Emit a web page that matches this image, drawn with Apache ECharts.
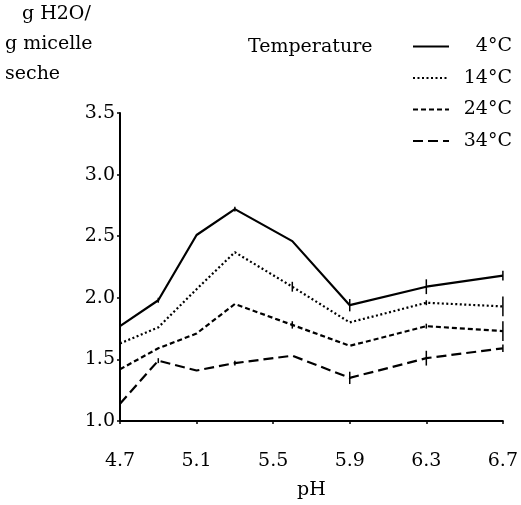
<!DOCTYPE html>
<html><head><meta charset="utf-8">
<script src="https://cdn.jsdelivr.net/npm/echarts@6/dist/echarts.min.js"></script>
<style>html,body{margin:0;padding:0;background:#fff}#c{width:521px;height:505px}</style>
</head><body><div id="c"></div>
<script>
const pH = [4.7, 4.9, 5.1, 5.3, 5.6, 5.9, 6.3, 6.7];
const xTicks = [4.7, 5.1, 5.5, 5.9, 6.3, 6.7];
const t4  = [1.77, 1.98, 2.51, 2.72, 2.46, 1.94, 2.09, 2.18];
const t14 = [1.63, 1.76, 2.07, 2.37, 2.09, 1.80, 1.96, 1.93];
const t24 = [1.42, 1.59, 1.71, 1.95, 1.78, 1.61, 1.77, 1.73];
const t34 = [1.14, 1.49, 1.41, 1.47, 1.53, 1.35, 1.51, 1.59];
const e4  = [0, 0.02, 0, 0.02, 0, 0.05, 0.06, 0.04];
const e14 = [0.04, 0, 0, 0, 0.04, 0, 0.02, 0.08];
const e24 = [0.04, 0, 0, 0, 0.03, 0, 0.02, 0.08];
const e34 = [0, 0.02, 0, 0.02, 0, 0.05, 0.06, 0.03];
const names = ['4°C', '14°C', '24°C', '34°C'];
const dashes = ['solid', [2, 2.5], [5, 3], [10, 5]];
const values = [t4, t14, t24, t34];
const errs = [e4, e14, e24, e34];
const FONT = 'DejaVu Serif';
const INK = '#000';
const FS = 19;

const chart = echarts.init(document.getElementById('c'), null, {renderer: 'canvas'});
const series = [];
values.forEach((v, i) => {
  series.push({
    name: names[i], type: 'line', symbol: 'none', showSymbol: false,
    data: pH.map((x, k) => [x, v[k]]),
    lineStyle: {color: INK, width: 2.2, type: dashes[i]},
    itemStyle: {color: INK}, z: 3
  });
  series.push({
    type: 'custom', silent: true, z: 4,
    data: pH.map((x, k) => [x, v[k], errs[i][k]]).filter(d => d[2] > 0),
    renderItem: function (params, api) {
      const x = api.value(0), y = api.value(1), e = api.value(2);
      const p1 = api.coord([x, y - e]), p2 = api.coord([x, y + e]);
      return {type: 'line', shape: {x1: p1[0], y1: p1[1], x2: p2[0], y2: p2[1]},
              style: {stroke: INK, lineWidth: 1.5}};
    }
  });
});

chart.setOption({
  animation: false,
  backgroundColor: '#fff',
  textStyle: {fontFamily: FONT, color: INK},
  title: {text: 'Temperature', left: 243, top: 33,
          textStyle: {fontFamily: FONT, fontSize: FS, fontWeight: 'normal', color: INK}},
  graphic: [
    {type: 'text', left: 22, top: 5, style: {text: 'g H2O/', font: FS + 'px "DejaVu Serif"', fill: INK}},
    {type: 'text', left: 5, top: 35, style: {text: 'g micelle', font: FS + 'px "DejaVu Serif"', fill: INK}},
    {type: 'text', left: 5, top: 65, style: {text: 'seche', font: FS + 'px "DejaVu Serif"', fill: INK}}
  ],
  legend: {
    data: names, orient: 'vertical', left: 407, top: 32,
    itemWidth: 36, itemHeight: 22, itemGap: 12.5,
    itemStyle: {opacity: 0},
    formatter: n => '{a|' + n + '}',
    textStyle: {rich: {a: {width: 58, align: 'right', fontFamily: FONT, fontSize: FS, color: INK, lineHeight: 22}}}
  },
  grid: {left: 120, right: 15, top: 113, bottom: 82},
  xAxis: {
    type: 'value', min: 4.7, max: 6.7,
    name: 'pH', nameLocation: 'middle', nameGap: 60,
    nameTextStyle: {fontFamily: FONT, fontSize: FS, color: INK},
    axisLine: {lineStyle: {color: INK, width: 2}},
    axisTick: {show: true, customValues: xTicks, length: 3, lineStyle: {color: INK, width: 1.5}},
    axisLabel: {customValues: xTicks, margin: 31, fontFamily: FONT, fontSize: FS, color: INK,
                formatter: v => v.toFixed(1)},
    splitLine: {show: false}
  },
  yAxis: {
    type: 'value', min: 1, max: 3.5, interval: 0.5,
    axisLine: {show: true, lineStyle: {color: INK, width: 2}},
    axisTick: {show: true, length: 3, lineStyle: {color: INK, width: 1.5}},
    axisLabel: {margin: 5, fontFamily: FONT, fontSize: FS, color: INK, formatter: v => v.toFixed(1)},
    splitLine: {show: false}
  },
  series: series
});
</script></body></html>
